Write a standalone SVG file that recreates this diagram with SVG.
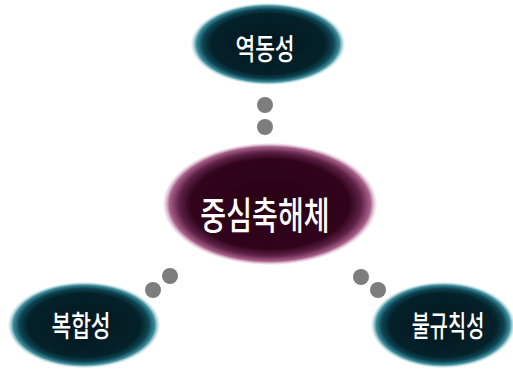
<svg xmlns="http://www.w3.org/2000/svg" width="513" height="369" viewBox="0 0 513 369">
<defs>
<radialGradient id="gT" cx="0.5" cy="0.5" r="0.5">
<stop offset="0" stop-color="#03171f"/>
<stop offset="0.74" stop-color="#042129"/>
<stop offset="0.85" stop-color="#0d4452"/>
<stop offset="0.93" stop-color="#3d8d9b"/>
<stop offset="1" stop-color="#d8eef2" stop-opacity="0.3"/>
</radialGradient>
<radialGradient id="gC" cx="0.5" cy="0.5" r="0.5">
<stop offset="0" stop-color="#2a0016"/>
<stop offset="0.74" stop-color="#31041c"/>
<stop offset="0.85" stop-color="#5e2146"/>
<stop offset="0.94" stop-color="#a8608a"/>
<stop offset="1" stop-color="#f2dce8" stop-opacity="0.3"/>
</radialGradient>
<style>
.lbl{font-family:"Noto Sans CJK KR","Noto Sans",sans-serif;font-weight:500;fill:#ffffff;text-anchor:middle;dominant-baseline:central}
.dot{fill:#7d7d7d}
</style>
</defs>
<rect width="513" height="369" fill="#ffffff"/>
<g id="connectors">
<circle class="dot" cx="265" cy="105" r="8"/>
<circle class="dot" cx="265" cy="127" r="8"/>
<circle class="dot" cx="170" cy="276" r="8"/>
<circle class="dot" cx="153" cy="290" r="8"/>
<circle class="dot" cx="361" cy="277" r="8"/>
<circle class="dot" cx="378" cy="290" r="8"/>
</g>
<g id="center">
<ellipse cx="270" cy="204" rx="107" ry="61" fill="url(#gC)"/>
<text class="lbl" x="0" y="0" font-size="38" transform="translate(265,213) scale(0.74,1)">중심축해체</text>
</g>
<g id="top">
<ellipse cx="268" cy="44" rx="77" ry="41" fill="url(#gT)"/>
<text class="lbl" x="0" y="0" font-size="29" transform="translate(265,47) scale(0.74,1)">역동성</text>
</g>
<g id="left">
<ellipse cx="84" cy="325" rx="76" ry="43" fill="url(#gT)"/>
<text class="lbl" x="0" y="0" font-size="29" transform="translate(81,324) scale(0.74,1)">복합성</text>
</g>
<g id="right">
<ellipse cx="443" cy="325" rx="72" ry="43" fill="url(#gT)"/>
<text class="lbl" x="0" y="0" font-size="29" transform="translate(448,324) scale(0.68,1)">불규칙성</text>
</g>
</svg>
